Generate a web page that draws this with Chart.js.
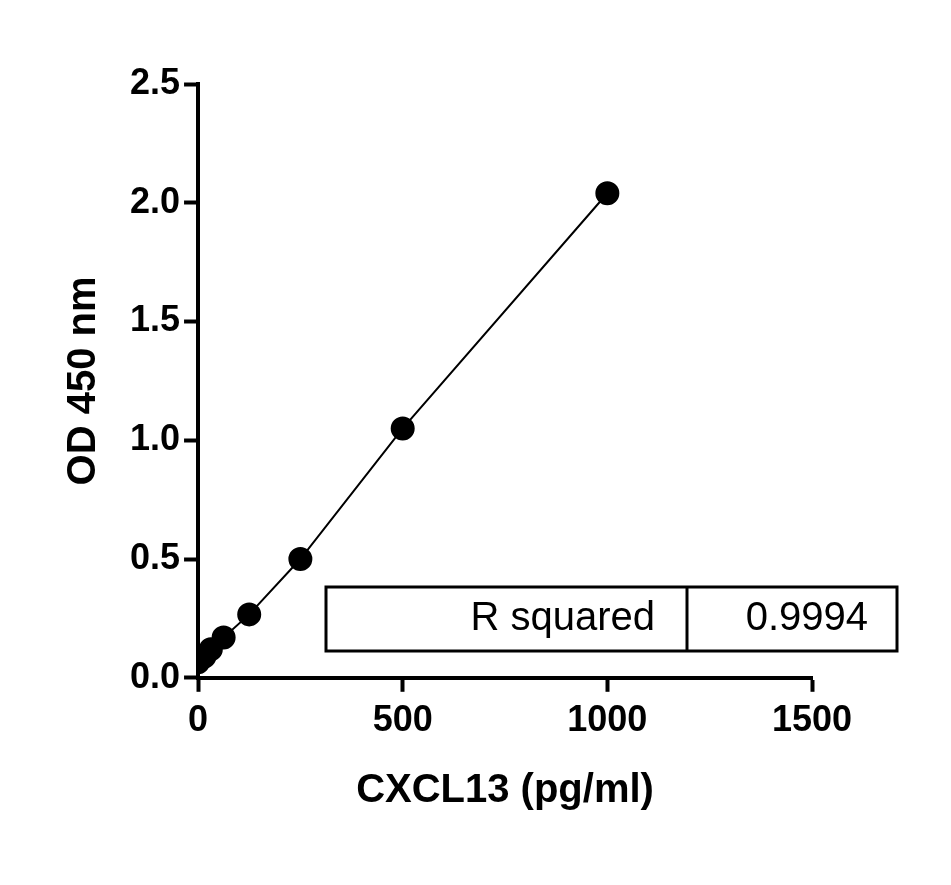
<!DOCTYPE html>
<html><head><meta charset="utf-8">
<script src="https://cdn.jsdelivr.net/npm/chart.js@4/dist/chart.umd.min.js"></script>
<style>body{margin:0;background:#fff}#wrap{width:951px;height:885px}</style>
</head><body><div id="wrap"><canvas id="c"></canvas></div>
<script>
// datos
const conc = [0, 15.6, 31.25, 62.5, 125, 250, 500, 1000];
const od = [0.065, 0.09, 0.12, 0.17, 0.267, 0.50, 1.05, 2.04];
const xTicks = [0, 500, 1000, 1500];
const yTicks = [0, 0.5, 1.0, 1.5, 2.0, 2.5];
const rLabel = "R squared";
const rValue = "0.9994";

const puntos = conc.map((x, i) => ({ x: x, y: od[i] }));

// tabla de R cuadrado
const cajaR = {
  id: "cajaR",
  afterDraw(chart) {
    const ctx = chart.ctx;
    ctx.save();
    ctx.strokeStyle = "#000";
    ctx.lineWidth = 3;
    ctx.strokeRect(326, 587, 571, 64);
    ctx.beginPath();
    ctx.moveTo(687, 587);
    ctx.lineTo(687, 651);
    ctx.stroke();
    ctx.fillStyle = "#000";
    ctx.font = "40px 'Liberation Sans', Arial";
    ctx.textBaseline = "middle";
    ctx.textAlign = "right";
    ctx.fillText(rLabel, 655, 619);
    ctx.fillText(rValue, 868, 619);
    ctx.restore();
  }
};

const fuente = { family: "'Liberation Sans', Arial", weight: "bold", size: 36 };
const fuenteTitulo = { family: "'Liberation Sans', Arial", weight: "bold", size: 40 };

new Chart(document.getElementById("c"), {
  type: "scatter",
  data: {
    datasets: [{
      data: puntos,
      showLine: true,
      borderColor: "#000",
      borderWidth: 2,
      backgroundColor: "#000",
      pointRadius: 11,
      pointHoverRadius: 11
    }]
  },
  options: {
    responsive: true,
    maintainAspectRatio: false,
    animation: false,
    layout: { padding: { top: 84, right: 139, bottom: 66, left: 56 } },
    plugins: { legend: { display: false }, tooltip: { enabled: false } },
    scales: {
      x: {
        type: "linear", min: 0, max: 1500,
        afterBuildTicks: (ax) => { ax.ticks = xTicks.map(v => ({ value: v })); },
        grid: { drawOnChartArea: false, tickLength: 14, tickWidth: 4, color: "#000" },
        border: { width: 4, color: "#000" },
        ticks: { color: "#000", font: fuente, padding: 8, callback: (v) => String(v) },
        title: { display: true, text: "CXCL13 (pg/ml)", color: "#000", font: fuenteTitulo, padding: { top: 16 } }
      },
      y: {
        type: "linear", min: 0, max: 2.5,
        afterBuildTicks: (ax) => { ax.ticks = yTicks.map(v => ({ value: v })); },
        grid: { drawOnChartArea: false, tickLength: 14, tickWidth: 4, color: "#000" },
        border: { width: 4, color: "#000" },
        ticks: { color: "#000", font: fuente, padding: 4, callback: (v) => v.toFixed(1) },
        title: { display: true, text: "OD 450 nm", color: "#000", font: fuenteTitulo, padding: { bottom: 18 } }
      }
    }
  },
  plugins: [cajaR]
});
</script></body></html>
